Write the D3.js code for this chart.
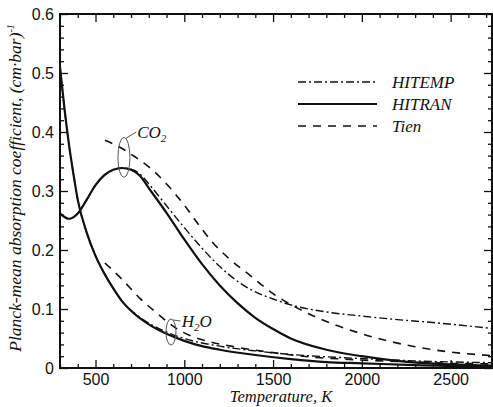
<!DOCTYPE html>
<html><head><meta charset="utf-8">
<script src="https://cdn.jsdelivr.net/npm/d3@7"></script>
<style>
html,body{margin:0;padding:0;background:#fff;}
svg{display:block;}
.tick text{font-family:Arial,"Liberation Sans",sans-serif;font-size:16px;fill:#111;}
.serif{font-family:"Liberation Serif","Times New Roman",serif;font-style:italic;fill:#111;}
</style></head>
<body>
<script>
// ---- data ----
const xTicks = [500, 1000, 1500, 2000, 2500];
const yTicks = [0, 0.1, 0.2, 0.3, 0.4, 0.5, 0.6];
const yTickLabels = ["0", "0.1", "0.2", "0.3", "0.4", "0.5", "0.6"];
const legendNames = ["HITEMP", "HITRAN", "Tien"];

const co2HitranT = [300, 350, 400, 450, 500, 550, 600, 650, 700, 750, 800, 900, 1000, 1100, 1200, 1300, 1400, 1500, 1600, 1800, 2000, 2200, 2500, 2733];
const co2HitranV = [0.262, 0.253, 0.262, 0.285, 0.31, 0.327, 0.336, 0.339, 0.336, 0.326, 0.305, 0.263, 0.218, 0.176, 0.14, 0.11, 0.085, 0.066, 0.05, 0.031, 0.02, 0.012, 0.006, 0.004];

const co2HitempT = [300, 350, 400, 450, 500, 550, 600, 650, 700, 750, 800, 900, 1000, 1100, 1200, 1300, 1400, 1500, 1600, 1800, 2000, 2200, 2400, 2733];
const co2HitempV = [0.262, 0.253, 0.262, 0.285, 0.31, 0.327, 0.336, 0.339, 0.337, 0.329, 0.312, 0.275, 0.238, 0.203, 0.172, 0.147, 0.129, 0.117, 0.107, 0.095, 0.088, 0.082, 0.077, 0.067];

const co2TienT = [553, 650, 722, 800, 900, 1000, 1100, 1162, 1250, 1370, 1500, 1700, 2000, 2300, 2500, 2733];
const co2TienV = [0.386, 0.372, 0.358, 0.341, 0.312, 0.276, 0.235, 0.212, 0.186, 0.157, 0.126, 0.092, 0.058, 0.036, 0.027, 0.021];

const h2oHitranT = [300, 325, 350, 375, 400, 450, 500, 550, 600, 650, 700, 800, 900, 1000, 1100, 1200, 1400, 1600, 1800, 2000, 2300, 2733];
const h2oHitranV = [0.51, 0.44, 0.38, 0.33, 0.285, 0.23, 0.19, 0.16, 0.135, 0.113, 0.097, 0.074, 0.058, 0.046, 0.037, 0.031, 0.022, 0.015, 0.01, 0.008, 0.005, 0.003];

const h2oHitempT = [300, 325, 350, 375, 400, 450, 500, 550, 600, 650, 700, 800, 900, 1000, 1200, 1400, 1600, 1800, 2000, 2300, 2733];
const h2oHitempV = [0.51, 0.44, 0.38, 0.33, 0.285, 0.23, 0.19, 0.16, 0.135, 0.113, 0.098, 0.076, 0.061, 0.05, 0.037, 0.029, 0.023, 0.019, 0.016, 0.012, 0.009];

const h2oTienT = [553, 650, 750, 850, 950, 1050, 1150, 1300, 1500, 1700, 1900, 2200, 2500, 2733];
const h2oTienV = [0.178, 0.15, 0.118, 0.092, 0.068, 0.053, 0.044, 0.035, 0.026, 0.019, 0.015, 0.011, 0.008, 0.007];

// ---- layout ----
const W = 493, H = 407;
const L = 60, R = 492, T = 14, B = 368;
const svg = d3.select("body").append("svg").attr("width", W).attr("height", H);

const x = d3.scaleLinear().domain([300, 2733]).range([L, R]);
const y = d3.scaleLinear().domain([0, 0.6]).range([B, T]);

const minorX = d3.range(300, 2734, 100).filter(d => !xTicks.includes(d));
const minorY = d3.range(0, 0.601, 0.02).map(d => +d.toFixed(2)).filter(d => !yTicks.some(t => Math.abs(t - d) < 1e-9));

function styleAxis(g) {
  g.select(".domain").remove();
  g.selectAll(".tick line").attr("stroke", "#111").attr("stroke-width", 1.3);
}

// minor ticks
svg.append("g").attr("transform", `translate(0,${B})`).call(d3.axisBottom(x).tickValues(minorX).tickSize(-4).tickFormat("")).call(styleAxis);
svg.append("g").attr("transform", `translate(0,${T})`).call(d3.axisTop(x).tickValues(minorX).tickSize(-4).tickFormat("")).call(styleAxis);
svg.append("g").attr("transform", `translate(${L},0)`).call(d3.axisLeft(y).tickValues(minorY).tickSize(-4).tickFormat("")).call(styleAxis);
svg.append("g").attr("transform", `translate(${R},0)`).call(d3.axisRight(y).tickValues(minorY).tickSize(-4).tickFormat("")).call(styleAxis);

// major ticks
svg.append("g").attr("transform", `translate(0,${B})`)
  .call(d3.axisBottom(x).tickValues(xTicks).tickSize(-8).tickFormat(d3.format("d")))
  .call(styleAxis)
  .call(g => g.selectAll(".tick text").attr("dy", null).attr("y", 17));
svg.append("g").attr("transform", `translate(0,${T})`).call(d3.axisTop(x).tickValues(xTicks).tickSize(-8).tickFormat("")).call(styleAxis);
svg.append("g").attr("transform", `translate(${L},0)`)
  .call(d3.axisLeft(y).tickValues(yTicks).tickSize(-8).tickFormat((d, i) => yTickLabels[i]))
  .call(styleAxis)
  .call(g => g.selectAll(".tick text").attr("x", -6));
svg.append("g").attr("transform", `translate(${R},0)`).call(d3.axisRight(y).tickValues(yTicks).tickSize(-8).tickFormat("")).call(styleAxis);

// frame
svg.append("rect").attr("x", L).attr("y", T).attr("width", R - L).attr("height", B - T)
  .attr("fill", "none").attr("stroke", "#111").attr("stroke-width", 2);

// clip
svg.append("clipPath").attr("id", "clip").append("rect").attr("x", L).attr("y", T).attr("width", R - L).attr("height", B - T);

const line = d3.line().x(d => x(d[0])).y(d => y(d[1])).curve(d3.curveMonotoneX);
const zip = (a, b) => a.map((t, i) => [t, b[i]]);

const styles = {
  HITEMP: {w: 1.4, dash: "8,3,2,3"},
  HITRAN: {w: 2.2, dash: null},
  Tien: {w: 1.6, dash: "8,7"}
};

const series = [
  ["HITEMP", co2HitempT, co2HitempV],
  ["HITEMP", h2oHitempT, h2oHitempV],
  ["Tien", co2TienT, co2TienV],
  ["Tien", h2oTienT, h2oTienV],
  ["HITRAN", co2HitranT, co2HitranV],
  ["HITRAN", h2oHitranT, h2oHitranV]
];
const plot = svg.append("g").attr("clip-path", "url(#clip)");
series.forEach(([k, t, v]) => {
  plot.append("path").attr("d", line(zip(t, v)))
    .attr("fill", "none").attr("stroke", "#111")
    .attr("stroke-width", styles[k].w)
    .attr("stroke-dasharray", styles[k].dash);
});

// ellipses + labels
function gasLabel(cx, cy, rx, ry, tx, ty, main, sub, tail) {
  svg.append("ellipse").attr("cx", x(cx)).attr("cy", y(cy)).attr("rx", rx).attr("ry", ry)
    .attr("fill", "none").attr("stroke", "#555").attr("stroke-width", 1);
  svg.append("path").attr("d", `M${x(cx) + 2},${y(cy) - ry + 1} L${x(tx) - 1},${ty - 6}`)
    .attr("fill", "none").attr("stroke", "#555").attr("stroke-width", 1);
  const t = svg.append("text").attr("class", "serif").attr("x", x(tx)).attr("y", ty).attr("font-size", 17);
  t.append("tspan").text(main);
  t.append("tspan").attr("font-size", 11).attr("dy", 4).text(sub);
  if (tail) t.append("tspan").attr("dy", -4).text(tail);
}
gasLabel(660, 0.357, 6, 20, 735, 138, "CO", "2", "");
gasLabel(925, 0.061, 5, 13, 985, 327, "H", "2", "O");

// legend
const legY = [82, 104, 126];
legendNames.forEach((n, i) => {
  svg.append("line").attr("x1", 298).attr("x2", 377).attr("y1", legY[i]).attr("y2", legY[i])
    .attr("stroke", "#111").attr("stroke-width", styles[n].w).attr("stroke-dasharray", styles[n].dash);
  svg.append("text").attr("class", "serif").attr("x", 392).attr("y", legY[i] + 6)
    .attr("font-size", 17).text(n);
});

// axis titles
svg.append("text").attr("class", "serif").attr("x", 281).attr("y", 402)
  .attr("text-anchor", "middle").attr("font-size", 16.5).text("Temperature, K");
const yl = svg.append("text").attr("class", "serif")
  .attr("transform", `translate(21,${188}) rotate(-90)`)
  .attr("text-anchor", "middle").attr("font-size", 17.5);
yl.append("tspan").text("Planck-mean absorption coefficient, (cm·bar)");
yl.append("tspan").attr("font-size", 10).attr("dy", -7).text("-1");
</script>
</body></html>
